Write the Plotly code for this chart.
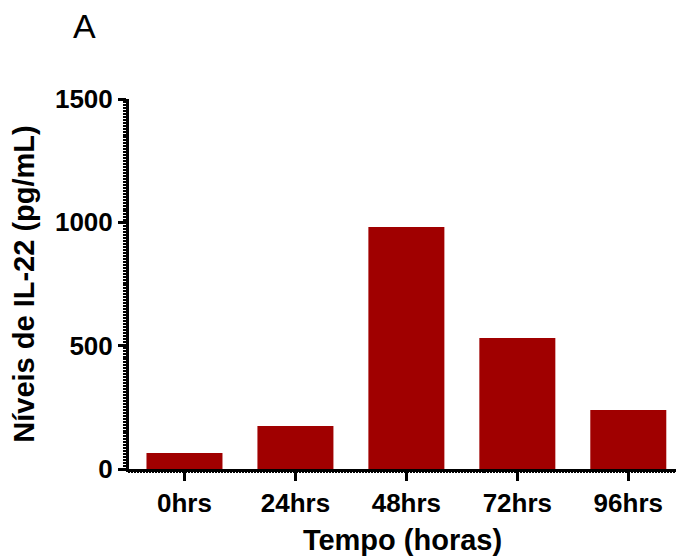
import plotly.graph_objects as go

categories = ["0hrs", "24hrs", "48hrs", "72hrs", "96hrs"]
values = [65, 174, 981, 531, 239]
y_ticks = [0, 500, 1000, 1500]

FONT = "Liberation Sans, Arial, sans-serif"
BAR_COLOR = "#A00000"

fig = go.Figure()
fig.add_trace(go.Bar(
    x=categories, y=values,
    marker=dict(color=BAR_COLOR, line=dict(width=0)),
    width=0.685,
    hoverinfo="x+y",
))
# invisible trace for minor tick axis along x
fig.add_trace(go.Scatter(x=[0], y=[0], xaxis="x2", mode="markers",
                         marker=dict(opacity=0), showlegend=False, hoverinfo="skip"))

fig.update_layout(
    width=676, height=557,
    margin=dict(l=129, r=0, t=99, b=88),
    paper_bgcolor="white", plot_bgcolor="white",
    showlegend=False,
    font=dict(family=FONT, color="black"),
    xaxis=dict(
        type="category",
        range=[-0.5, 4.43],
        showline=True, linecolor="black", linewidth=3,
        ticks="outside", ticklen=9, tickwidth=3, tickcolor="black",
        tickfont=dict(family=FONT, size=26, color="black", weight="bold"),
        showgrid=False, zeroline=False,
        title=dict(text="<b>Tempo (horas)</b>", font=dict(family=FONT, size=29, color="black"), standoff=13),
    ),
    xaxis2=dict(
        overlaying="x", range=[-0.5, 4.43], side="bottom",
        showline=False, showgrid=False, zeroline=False,
        ticks="outside", ticklen=3, tickwidth=1.5, tickcolor="black",
        dtick=0.027, tick0=-0.5, showticklabels=False,
    ),
    yaxis=dict(
        range=[0, 1500],
        tickvals=y_ticks,
        showline=True, linecolor="black", linewidth=3,
        ticks="outside", ticklen=8, tickwidth=3, tickcolor="black",
        tickfont=dict(family=FONT, size=26, color="black", weight="bold"),
        showgrid=False, zeroline=False,
        minor=dict(ticks="outside", ticklen=3, tickwidth=1.5, tickcolor="black", dtick=12, showgrid=False),
        title=dict(text="<b>Níveis de IL-22 (pg/mL)</b>", font=dict(family=FONT, size=29, color="black"), standoff=12),
    ),
    annotations=[dict(
        text="A", showarrow=False,
        xref="paper", yref="paper",
        x=(84 - 129) / (676 - 129), y=(557 - 88 - 26) / (557 - 99 - 88),
        xanchor="center", yanchor="middle",
        font=dict(family=FONT, size=34, color="black"),
    )],
)

fig.write_html("out.html")
